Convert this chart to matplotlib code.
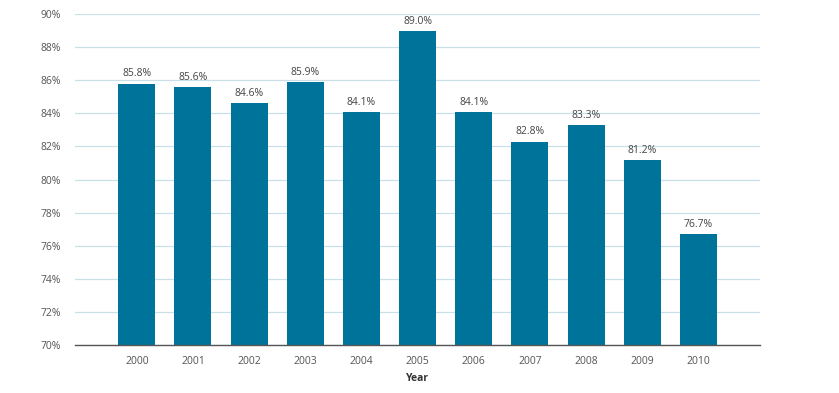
import matplotlib.pyplot as plt
import numpy as np

years = ['2000', '2001', '2002', '2003', '2004', '2005', '2006', '2007', '2008', '2009', '2010']
# bar heights as drawn in the source
values = [85.8, 85.6, 84.6, 85.9, 84.1, 89.0, 84.1, 82.3, 83.3, 81.2, 76.7]
# labels as printed above the bars
labels = ['85.8%', '85.6%', '84.6%', '85.9%', '84.1%', '89.0%', '84.1%', '82.8%', '83.3%', '81.2%', '76.7%']
yticks = [70, 72, 74, 76, 78, 80, 82, 84, 86, 88, 90]

plt.rcParams['font.family'] = ['Open Sans', 'DejaVu Sans']

fig = plt.figure(figsize=(8.39, 3.93), dpi=100)
ax = fig.add_axes([0.0894, 0.1221, 0.8166, 0.8419])

x = np.arange(len(years))
bars = ax.bar(x, values, width=0.66, bottom=0, color='#00739a', zorder=3)

for xi, v, lab in zip(x, values, labels):
    ax.text(xi, v + 0.25, lab, ha='center', va='bottom', fontsize=7.5, color='#444444')

ax.set_ylim(70, 90)
ax.set_xlim(-1.1, 11.1)
ax.set_yticks(yticks)
ax.set_yticklabels([f'{t}%' for t in yticks])
ax.set_xticks(x)
ax.set_xticklabels(years)
ax.tick_params(axis='both', length=0, labelsize=7.5, labelcolor='#555555')
ax.tick_params(axis='y', pad=10)
ax.tick_params(axis='x', pad=8)

ax.grid(axis='y', color='#c9e0e8', linewidth=0.9, zorder=0)
for s in ['top', 'right', 'left']:
    ax.spines[s].set_visible(False)
ax.spines['bottom'].set_color('#555555')
ax.spines['bottom'].set_linewidth(1.0)
ax.spines['bottom'].set_zorder(4)

ax.set_xlabel('Year', fontsize=7.5, fontweight='bold', color='#333333', labelpad=4)

fig.savefig('out.png', dpi=100)
